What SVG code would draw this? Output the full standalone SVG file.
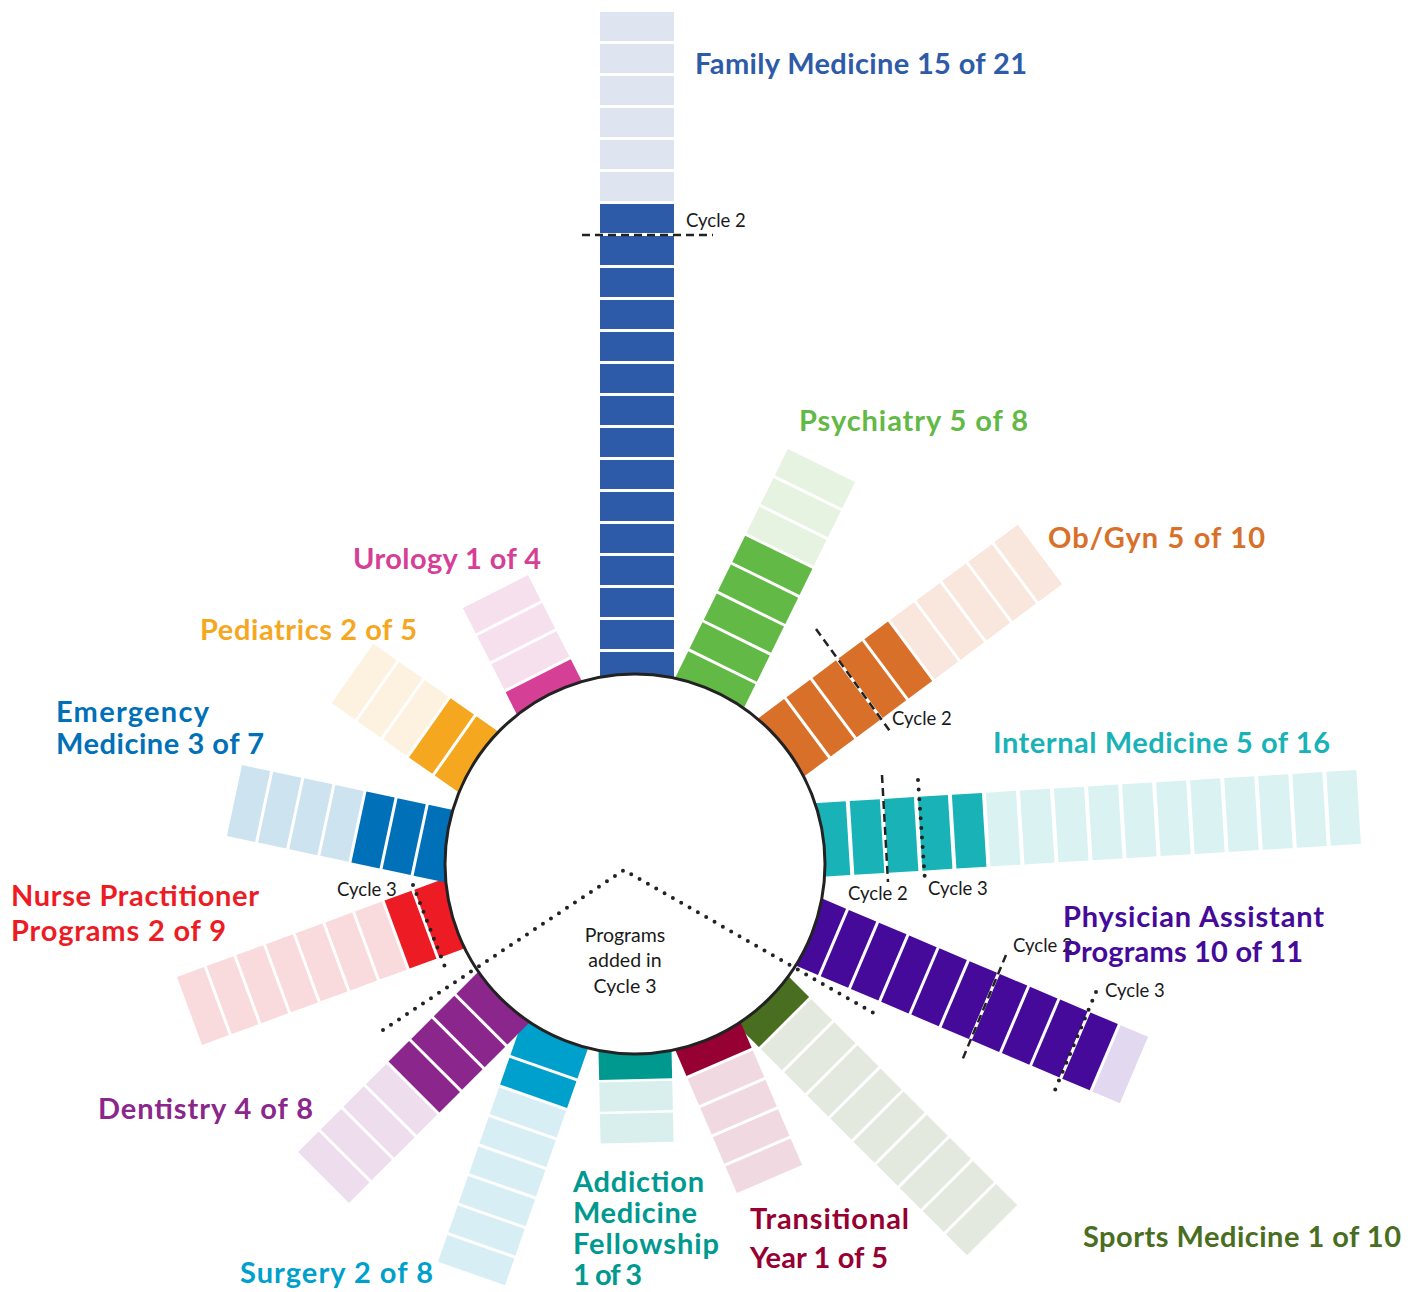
<svg xmlns="http://www.w3.org/2000/svg" width="1416" height="1292" viewBox="0 0 1416 1292">
<style>
.lbl{font-family:Lato,"Open Sans",sans-serif;font-weight:700;font-size:29px}
.sm{font-family:Lato,"Open Sans",sans-serif;font-size:18.5px;fill:#1a1a1a}
.ctr{font-family:Lato,"Open Sans",sans-serif;font-size:19.5px;fill:#1a1a1a;text-anchor:middle}
.dash{fill:none;stroke:#222;stroke-width:2.5;stroke-dasharray:8 5}
.dot{fill:none;stroke:#222;stroke-width:4;stroke-linecap:round;stroke-dasharray:0 9.6}
.fm-d{fill:#2d5ba8}.fm-l{fill:#dfe5f0}
.ps-d{fill:#62b946}.ps-l{fill:#e6f3e1}
.ob-d{fill:#d9702a}.ob-l{fill:#f9e6dc}
.im-d{fill:#19b3b7}.im-l{fill:#daf2f2}
.pa-d{fill:#450a99}.pa-l{fill:#e2d9f0}
.sp-d{fill:#4a6e1f}.sp-l{fill:#e4e9df}
.ty-d{fill:#960032}.ty-l{fill:#f0d9e1}
.ad-d{fill:#009990}.ad-l{fill:#d8efed}
.su-d{fill:#00a0cc}.su-l{fill:#d8eef5}
.de-d{fill:#8b268c}.de-l{fill:#eedded}
.np-d{fill:#ed1c24}.np-l{fill:#fadbdd}
.em-d{fill:#0071b8}.em-l{fill:#cde3f0}
.pe-d{fill:#f5a81f}.pe-l{fill:#fdf2e0}
.ur-d{fill:#d63f96}.ur-l{fill:#f7e0ee}
</style>

<g id="bar-family-medicine" transform="translate(637,681)">
<g class="fm-d">
<rect x="-37" y="-29" width="74" height="43"/>
<rect x="-37" y="-61" width="74" height="29"/>
<rect x="-37" y="-93" width="74" height="29"/>
<rect x="-37" y="-125" width="74" height="29"/>
<rect x="-37" y="-157" width="74" height="29"/>
<rect x="-37" y="-189" width="74" height="29"/>
<rect x="-37" y="-221" width="74" height="29"/>
<rect x="-37" y="-253" width="74" height="29"/>
<rect x="-37" y="-285" width="74" height="29"/>
<rect x="-37" y="-317" width="74" height="29"/>
<rect x="-37" y="-349" width="74" height="29"/>
<rect x="-37" y="-381" width="74" height="29"/>
<rect x="-37" y="-413" width="74" height="29"/>
<rect x="-37" y="-445" width="74" height="29"/>
<rect x="-37" y="-477" width="74" height="29"/>
</g>
<g class="fm-l">
<rect x="-37" y="-509" width="74" height="29"/>
<rect x="-37" y="-541" width="74" height="29"/>
<rect x="-37" y="-573" width="74" height="29"/>
<rect x="-37" y="-605" width="74" height="29"/>
<rect x="-37" y="-637" width="74" height="29"/>
<rect x="-37" y="-669" width="74" height="29"/>
</g>
</g>

<g id="bar-psychiatry" transform="translate(709,694) rotate(26.2)">
<g class="ps-d">
<rect x="-37.5" y="-29.2" width="75" height="43.2"/>
<rect x="-37.5" y="-61.4" width="75" height="29.2"/>
<rect x="-37.5" y="-93.6" width="75" height="29.2"/>
<rect x="-37.5" y="-125.8" width="75" height="29.2"/>
<rect x="-37.5" y="-158" width="75" height="29.2"/>
</g>
<g class="ps-l">
<rect x="-37.5" y="-190.2" width="75" height="29.2"/>
<rect x="-37.5" y="-222.4" width="75" height="29.2"/>
<rect x="-37.5" y="-254.6" width="75" height="29.2"/>
</g>
</g>

<g id="bar-obgyn" transform="translate(782.6,746.3) rotate(53.3)">
<g class="ob-d">
<rect x="-37" y="-29.4" width="74" height="43.4"/>
<rect x="-37" y="-61.8" width="74" height="29.4"/>
<rect x="-37" y="-94.2" width="74" height="29.4"/>
<rect x="-37" y="-126.6" width="74" height="29.4"/>
<rect x="-37" y="-159" width="74" height="29.4"/>
</g>
<g class="ob-l">
<rect x="-37" y="-191.4" width="74" height="29.4"/>
<rect x="-37" y="-223.8" width="74" height="29.4"/>
<rect x="-37" y="-256.2" width="74" height="29.4"/>
<rect x="-37" y="-288.6" width="74" height="29.4"/>
<rect x="-37" y="-321" width="74" height="29.4"/>
</g>
</g>

<g id="bar-internal-medicine" transform="translate(818,840) rotate(86.5)">
<g class="im-d">
<rect x="-37" y="-30.1" width="74" height="44.1"/>
<rect x="-37" y="-64.2" width="74" height="30.1"/>
<rect x="-37" y="-98.3" width="74" height="30.1"/>
<rect x="-37" y="-132.4" width="74" height="30.1"/>
<rect x="-37" y="-166.5" width="74" height="30.1"/>
</g>
<g class="im-l">
<rect x="-37" y="-200.6" width="74" height="30.1"/>
<rect x="-37" y="-234.7" width="74" height="30.1"/>
<rect x="-37" y="-268.8" width="74" height="30.1"/>
<rect x="-37" y="-302.9" width="74" height="30.1"/>
<rect x="-37" y="-337" width="74" height="30.1"/>
<rect x="-37" y="-371.1" width="74" height="30.1"/>
<rect x="-37" y="-405.2" width="74" height="30.1"/>
<rect x="-37" y="-439.3" width="74" height="30.1"/>
<rect x="-37" y="-473.4" width="74" height="30.1"/>
<rect x="-37" y="-507.5" width="74" height="30.1"/>
<rect x="-37" y="-541.6" width="74" height="30.1"/>
</g>
</g>

<g id="bar-physician-assistant" transform="translate(804.6,930.2) rotate(113)">
<g class="pa-d">
<rect x="-36" y="-29.8" width="72" height="43.8"/>
<rect x="-36" y="-62.6" width="72" height="29.8"/>
<rect x="-36" y="-95.4" width="72" height="29.8"/>
<rect x="-36" y="-128.2" width="72" height="29.8"/>
<rect x="-36" y="-161" width="72" height="29.8"/>
<rect x="-36" y="-193.8" width="72" height="29.8"/>
<rect x="-36" y="-226.6" width="72" height="29.8"/>
<rect x="-36" y="-259.4" width="72" height="29.8"/>
<rect x="-36" y="-292.2" width="72" height="29.8"/>
<rect x="-36" y="-325" width="72" height="29.8"/>
</g>
<g class="pa-l">
<rect x="-36" y="-357.8" width="72" height="29.8"/>
</g>
</g>

<g id="bar-sports-medicine" transform="translate(763,1001) rotate(135)">
<g class="sp-d">
<rect x="-35.5" y="-29.7" width="71" height="43.7"/>
</g>
<g class="sp-l">
<rect x="-35.5" y="-62.4" width="71" height="29.7"/>
<rect x="-35.5" y="-95.1" width="71" height="29.7"/>
<rect x="-35.5" y="-127.8" width="71" height="29.7"/>
<rect x="-35.5" y="-160.5" width="71" height="29.7"/>
<rect x="-35.5" y="-193.2" width="71" height="29.7"/>
<rect x="-35.5" y="-225.9" width="71" height="29.7"/>
<rect x="-35.5" y="-258.6" width="71" height="29.7"/>
<rect x="-35.5" y="-291.3" width="71" height="29.7"/>
<rect x="-35.5" y="-324" width="71" height="29.7"/>
</g>
</g>

<g id="bar-transitional-year" transform="translate(707.6,1035.3) rotate(156.7)">
<g class="ty-d">
<rect x="-35.5" y="-28.9" width="71" height="42.9"/>
</g>
<g class="ty-l">
<rect x="-35.5" y="-60.8" width="71" height="28.9"/>
<rect x="-35.5" y="-92.7" width="71" height="28.9"/>
<rect x="-35.5" y="-124.6" width="71" height="28.9"/>
<rect x="-35.5" y="-156.5" width="71" height="28.9"/>
</g>
</g>

<g id="bar-addiction-medicine" transform="translate(635,1050) rotate(178.7)">
<g class="ad-d">
<rect x="-36.5" y="-29.2" width="73" height="43.2"/>
</g>
<g class="ad-l">
<rect x="-36.5" y="-60.9" width="73" height="29.2"/>
<rect x="-36.5" y="-92.6" width="73" height="29.2"/>
</g>
</g>

<g id="bar-surgery" transform="translate(553.3,1040) rotate(199.3)">
<g class="su-d">
<rect x="-35.5" y="-28.3" width="71" height="42.3"/>
<rect x="-35.5" y="-59.6" width="71" height="28.3"/>
</g>
<g class="su-l">
<rect x="-35.5" y="-90.9" width="71" height="28.3"/>
<rect x="-35.5" y="-122.2" width="71" height="28.3"/>
<rect x="-35.5" y="-153.5" width="71" height="28.3"/>
<rect x="-35.5" y="-184.8" width="71" height="28.3"/>
<rect x="-35.5" y="-216.1" width="71" height="28.3"/>
<rect x="-35.5" y="-247.4" width="71" height="28.3"/>
</g>
</g>

<g id="bar-dentistry" transform="translate(502.4,998.6) rotate(225)">
<g class="de-d">
<rect x="-36" y="-29" width="72" height="43"/>
<rect x="-36" y="-61" width="72" height="29"/>
<rect x="-36" y="-93" width="72" height="29"/>
<rect x="-36" y="-125" width="72" height="29"/>
</g>
<g class="de-l">
<rect x="-36" y="-157" width="72" height="29"/>
<rect x="-36" y="-189" width="72" height="29"/>
<rect x="-36" y="-221" width="72" height="29"/>
<rect x="-36" y="-253" width="72" height="29"/>
</g>
</g>

<g id="bar-nurse-practitioner" transform="translate(453.6,913.8) rotate(249.8)">
<g class="np-d">
<rect x="-36.25" y="-28.6" width="72.5" height="42.6"/>
<rect x="-36.25" y="-60.2" width="72.5" height="28.6"/>
</g>
<g class="np-l">
<rect x="-36.25" y="-91.8" width="72.5" height="28.6"/>
<rect x="-36.25" y="-123.4" width="72.5" height="28.6"/>
<rect x="-36.25" y="-155" width="72.5" height="28.6"/>
<rect x="-36.25" y="-186.6" width="72.5" height="28.6"/>
<rect x="-36.25" y="-218.2" width="72.5" height="28.6"/>
<rect x="-36.25" y="-249.8" width="72.5" height="28.6"/>
<rect x="-36.25" y="-281.4" width="72.5" height="28.6"/>
</g>
</g>

<g id="bar-emergency-medicine" transform="translate(449.3,846.2) rotate(282)">
<g class="em-d">
<rect x="-36.25" y="-28.8" width="72.5" height="42.8"/>
<rect x="-36.25" y="-60.6" width="72.5" height="28.8"/>
<rect x="-36.25" y="-92.4" width="72.5" height="28.8"/>
</g>
<g class="em-l">
<rect x="-36.25" y="-124.2" width="72.5" height="28.8"/>
<rect x="-36.25" y="-156" width="72.5" height="28.8"/>
<rect x="-36.25" y="-187.8" width="72.5" height="28.8"/>
<rect x="-36.25" y="-219.6" width="72.5" height="28.8"/>
</g>
</g>

<g id="bar-pediatrics" transform="translate(478.9,762.3) rotate(305.1)">
<g class="pe-d">
<rect x="-36.25" y="-28.5" width="72.5" height="42.5"/>
<rect x="-36.25" y="-60" width="72.5" height="28.5"/>
</g>
<g class="pe-l">
<rect x="-36.25" y="-91.5" width="72.5" height="28.5"/>
<rect x="-36.25" y="-123" width="72.5" height="28.5"/>
<rect x="-36.25" y="-154.5" width="72.5" height="28.5"/>
</g>
</g>

<g id="bar-urology" transform="translate(551.1,701.2) rotate(333.1)">
<g class="ur-d">
<rect x="-36.5" y="-28.5" width="73" height="42.5"/>
</g>
<g class="ur-l">
<rect x="-36.5" y="-60" width="73" height="28.5"/>
<rect x="-36.5" y="-91.5" width="73" height="28.5"/>
<rect x="-36.5" y="-123" width="73" height="28.5"/>
</g>
</g>

<g id="hub">
<circle cx="635" cy="864" r="190" fill="#ffffff" stroke="#222" stroke-width="3"/>
</g>

<g id="connectors">
<line class="dash" x1="582" y1="235" x2="713" y2="235"/>
<line class="dash" x1="816" y1="629" x2="892" y2="734"/>
<line class="dash" x1="882" y1="775" x2="888" y2="882"/>
<line class="dot" x1="918" y1="780" x2="925" y2="881"/>
<line class="dash" x1="1006" y1="955" x2="961" y2="1063"/>
<line class="dot" x1="1096" y1="992" x2="1055" y2="1090"/>
<line class="dot" x1="413" y1="885" x2="445" y2="967"/>
<polyline class="dot" points="383,1030 624,870 877,1015"/>
</g>

<g id="cycle-labels">
<text class="sm" x="686" y="227">Cycle 2</text>
<text class="sm" x="892" y="725">Cycle 2</text>
<text class="sm" x="848" y="900">Cycle 2</text>
<text class="sm" x="928" y="895">Cycle 3</text>
<text class="sm" x="1013" y="952">Cycle 2</text>
<text class="sm" x="1105" y="997">Cycle 3</text>
<text class="sm" x="337" y="896">Cycle 3</text>
</g>

<g id="center-label">
<text class="ctr" x="625" y="942">Programs</text>
<text class="ctr" x="625" y="967">added in</text>
<text class="ctr" x="625" y="993">Cycle 3</text>
</g>

<g id="labels">
<text class="lbl" x="695" y="74" fill="#2d5ba8" textLength="332">Family Medicine 15 of 21</text>
<text class="lbl" x="799" y="431" fill="#62b946" textLength="229">Psychiatry 5 of 8</text>
<text class="lbl" x="1048" y="548" fill="#d9702a" textLength="217">Ob/Gyn 5 of 10</text>
<text class="lbl" x="993" y="753" fill="#19b3b7" textLength="337">Internal Medicine 5 of 16</text>
<text class="lbl" x="1063" y="927" fill="#450a99" textLength="261">Physician Assistant</text>
<text class="lbl" x="1063" y="962" fill="#450a99" textLength="240">Programs 10 of 11</text>
<text class="lbl" x="1083" y="1247" fill="#4a6e1f" textLength="318">Sports Medicine 1 of 10</text>
<text class="lbl" x="750" y="1229" fill="#960032" textLength="159">Transitional</text>
<text class="lbl" x="750" y="1268" fill="#960032" textLength="138">Year 1 of 5</text>
<text class="lbl" x="573" y="1192" fill="#009990" textLength="131">Addiction</text>
<text class="lbl" x="573" y="1223" fill="#009990" textLength="124">Medicine</text>
<text class="lbl" x="573" y="1254" fill="#009990" textLength="146">Fellowship</text>
<text class="lbl" x="573" y="1285" fill="#009990" textLength="69">1 of 3</text>
<text class="lbl" x="240" y="1283" fill="#00a0cc" textLength="193">Surgery 2 of 8</text>
<text class="lbl" x="98" y="1119" fill="#8b268c" textLength="215">Dentistry 4 of 8</text>
<text class="lbl" x="11" y="906" fill="#ed1c24" textLength="248">Nurse Practitioner</text>
<text class="lbl" x="11" y="941" fill="#ed1c24" textLength="215">Programs 2 of 9</text>
<text class="lbl" x="56" y="722" fill="#0071b8" textLength="153">Emergency</text>
<text class="lbl" x="56" y="754" fill="#0071b8" textLength="208">Medicine 3 of 7</text>
<text class="lbl" x="200" y="640" fill="#f5a81f" textLength="217">Pediatrics 2 of 5</text>
<text class="lbl" x="353" y="569" fill="#d63f96" textLength="188">Urology 1 of 4</text>
</g>
</svg>
